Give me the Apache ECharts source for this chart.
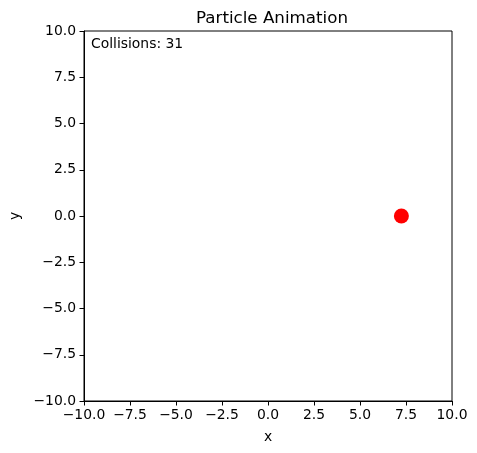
<!DOCTYPE html>
<html>
<head>
<meta charset="utf-8">
<script src="https://cdn.jsdelivr.net/npm/echarts@6/dist/echarts.min.js"></script>
<style>html,body{margin:0;padding:0;background:#fff}#c{width:477px;height:453px}</style>
</head>
<body>
<div id="c"></div>
<script>
const titleText = 'Particle Animation';
const collisionText = 'Collisions: 31';
const particleX = [7.25];
const particleY = [0];
const axisMin = -10, axisMax = 10, axisStep = 2.5;

const fmt = v => {
  const s = v.toFixed(1);
  return s.replace('-', '\u2212');
};
const font = 'DejaVu Sans';
const chart = echarts.init(document.getElementById('c'), null, {renderer: 'canvas'});
const axisCommon = {
  min: axisMin, max: axisMax, interval: axisStep,
  axisLine: {show: true, onZero: false, lineStyle: {color: '#000', width: 1}},
  axisTick: {show: true, length: 4.5, lineStyle: {color: '#000', width: 1}},
  splitLine: {show: false},
  axisLabel: {color: '#000', fontFamily: font, fontSize: 13.9, formatter: fmt},
  nameTextStyle: {color: '#000', fontFamily: font, fontSize: 13.9}
};
chart.setOption({
  animation: false,
  title: {text: titleText, left: 267, top: 5, textAlign: 'center',
    textStyle: {fontFamily: font, fontSize: 16.7, fontWeight: 'normal', color: '#000'}},
  grid: {left: 82, top: 31, width: 370, height: 370, show: true, borderColor: '#000', borderWidth: 1, backgroundColor: '#fff'},
  xAxis: Object.assign({}, axisCommon, {type: 'value', name: 'x', nameLocation: 'middle', nameGap: 29,
    axisLabel: Object.assign({}, axisCommon.axisLabel, {margin: 7})}),
  yAxis: Object.assign({}, axisCommon, {type: 'value', name: 'y', nameLocation: 'middle', nameGap: 62,
    axisLabel: Object.assign({}, axisCommon.axisLabel, {margin: 8})}),
  graphic: [{type: 'text', left: 91, top: 37, style: {text: collisionText, fontFamily: font, fontSize: 13.9, fill: '#000'}}],
  series: [{type: 'scatter', data: particleX.map((x, i) => [x, particleY[i]]), symbolSize: 15,
    itemStyle: {color: '#ff0000', opacity: 1}}]
});
</script>
</body>
</html>
